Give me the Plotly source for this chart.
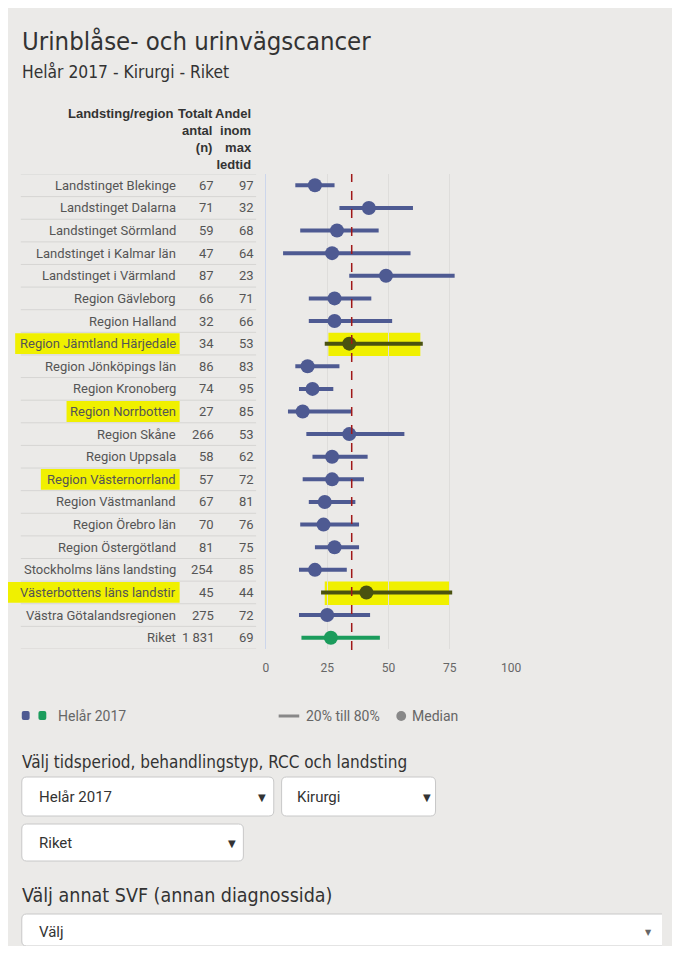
import plotly.graph_objects as go

OFF = 8  # default page body margin
W, H = 680 - 2 * OFF, 954 - 2 * OFF

regions = [
    "Landstinget Blekinge", "Landstinget Dalarna", "Landstinget Sörmland",
    "Landstinget i Kalmar län", "Landstinget i Värmland", "Region Gävleborg",
    "Region Halland", "Region Jämtland Härjedale", "Region Jönköpings län",
    "Region Kronoberg", "Region Norrbotten", "Region Skåne", "Region Uppsala",
    "Region Västernorrland", "Region Västmanland", "Region Örebro län",
    "Region Östergötland", "Stockholms läns landsting", "Västerbottens läns landstir",
    "Västra Götalandsregionen", "Riket",
]
totalt_n = ["67", "71", "59", "47", "87", "66", "32", "34", "86", "74", "27",
            "266", "58", "57", "67", "70", "81", "254", "45", "275", "1 831"]
andel = ["97", "32", "68", "64", "23", "71", "66", "53", "83", "95", "85",
         "53", "62", "72", "81", "76", "75", "85", "44", "72", "69"]
p20 = [12, 30, 14, 7, 34, 17.5, 17.5, 24, 12, 13.5, 9, 16.5, 19, 15, 17.5, 14, 20, 13.5, 22.5, 13.5, 14.5]
median = [20, 42, 29, 27, 49, 28, 28, 34, 17, 19, 15, 34, 27, 27, 24, 23.5, 28, 20, 41, 25, 26.5]
p80 = [28, 60, 46, 59, 77, 43, 51.5, 64, 30, 27.5, 35, 56.5, 41.5, 40, 36.5, 38, 38, 33, 76, 42.5, 46.5]
max_ledtid = 35
highlight_labels = ["Region Jämtland Härjedale", "Region Norrbotten",
                    "Region Västernorrland", "Västerbottens läns landstir"]
highlight_lines = ["Region Jämtland Härjedale", "Västerbottens läns landstir"]
x_ticks = [0, 25, 50, 75, 100]

BLUE = "#4e5a92"
GREEN = "#1b9c5c"
OLIVE = "#4a5210"
YELLOW = "#f0f000"
BG = "#ebeae8"


def X(px):
    return (px - OFF) / W


def Y(py):
    return 1 - (py - OFF) / H


def P(x, y):
    return f"{X(x)},{Y(y)}"


def rrect(x0, y0, x1, y1, r=4):
    return (f"M {P(x0 + r, y0)} L {P(x1 - r, y0)} Q {P(x1, y0)} {P(x1, y0 + r)} "
            f"L {P(x1, y1 - r)} Q {P(x1, y1)} {P(x1 - r, y1)} L {P(x0 + r, y1)} "
            f"Q {P(x0, y1)} {P(x0, y1 - r)} L {P(x0, y0 + r)} Q {P(x0, y0)} {P(x0 + r, y0)} Z")


def rrect_open_right(x0, y0, x1, y1, r=4):
    return (f"M {P(x1, y0)} L {P(x0 + r, y0)} Q {P(x0, y0)} {P(x0, y0 + r)} "
            f"L {P(x0, y1 - r)} Q {P(x0, y1)} {P(x0 + r, y1)} L {P(x1, y1)}")


fig = go.Figure()


def group(idx, color):
    lx, ly = [], []
    for i in idx:
        lx += [p20[i], p80[i], None]
        ly += [regions[i], regions[i], None]
    fig.add_trace(go.Scatter(x=lx, y=ly, mode="lines", line=dict(color=color, width=4),
                             hoverinfo="skip", showlegend=False))
    fig.add_trace(go.Scatter(x=[median[i] for i in idx], y=[regions[i] for i in idx],
                             mode="markers", marker=dict(color=color, size=14),
                             showlegend=False))


blue_idx = [i for i, r in enumerate(regions) if r != "Riket" and r not in highlight_lines]
olive_idx = [i for i, r in enumerate(regions) if r in highlight_lines]
green_idx = [i for i, r in enumerate(regions) if r == "Riket"]
group(blue_idx, BLUE)
group(olive_idx, OLIVE)
group(green_idx, GREEN)

shapes = []
for i in range(len(regions) + 1):
    shapes.append(dict(type="line", xref="paper", yref="y", x0=X(18), x1=X(258),
                       y0=i - 0.5, y1=i - 0.5, line=dict(color="#d6d5d3", width=1), layer="below"))
for r in highlight_labels:
    i = regions.index(r)
    txt_w = len(r) * 6.55
    shapes.append(dict(type="rect", xref="paper", yref="y", x0=X(178 - txt_w - 2), x1=X(180),
                       y0=i - 0.46, y1=i + 0.46, fillcolor=YELLOW, line_width=0, layer="below"))
for r in highlight_lines:
    i = regions.index(r)
    shapes.append(dict(type="rect", xref="x", yref="y", x0=p20[i] + 1.5, x1=p80[i] - 1,
                       y0=i - 0.48, y1=i + 0.55, fillcolor=YELLOW, line_width=0, layer="below"))
shapes.append(dict(type="line", xref="x", yref="paper", x0=max_ledtid, x1=max_ledtid,
                   y0=Y(650), y1=Y(174), line=dict(color="#a01818", width=1.5, dash="dash"),
                   layer="above"))
shapes.append(dict(type="path", xref="paper", yref="paper", path=rrect(19, 711, 27, 720, 2),
                   fillcolor=BLUE, line_width=0))
shapes.append(dict(type="path", xref="paper", yref="paper", path=rrect(36, 711, 44, 720, 2),
                   fillcolor=GREEN, line_width=0))
shapes.append(dict(type="line", xref="paper", yref="paper", x0=X(281), x1=X(302), y0=Y(716),
                   y1=Y(716), line=dict(color="#888888", width=3)))
shapes.append(dict(type="circle", xref="paper", yref="paper", x0=X(401), x1=X(411), y0=Y(721),
                   y1=Y(711), fillcolor="#888888", line_width=0))
for (x0, y0, x1, y1) in [(19, 777, 276, 816), (284, 777, 441, 816), (19, 824, 245, 861)]:
    shapes.append(dict(type="path", xref="paper", yref="paper", path=rrect(x0, y0, x1, y1, 5),
                       fillcolor="white", line=dict(color="#c8c8c8", width=1)))
shapes.append(dict(type="path", xref="paper", yref="paper",
                   path=rrect_open_right(19, 914, 680 - OFF, 946, 5),
                   fillcolor="white", line=dict(color="#c8c8c8", width=1)))

ann = []
HF = "Liberation Sans Narrow, DejaVu Sans Condensed, Arial"
BF = "Roboto, Arial"
ann.append(dict(text="Urinblåse- och urinvägscancer", x=X(17), y=Y(41), xref="paper", yref="paper",
                xanchor="left", yanchor="middle", showarrow=False,
                font=dict(family=HF, size=25.5, color="#333333")))
ann.append(dict(text="Helår 2017 - Kirurgi - Riket", x=X(17), y=Y(72), xref="paper", yref="paper",
                xanchor="left", yanchor="middle", showarrow=False,
                font=dict(family=HF, size=17.3, color="#333333")))
hdr = dict(xref="paper", yref="paper", xanchor="right", yanchor="top", align="right",
           showarrow=False, font=dict(family="Liberation Sans Narrow, Arial", size=13, color="#333333"))
ann.append(dict(text="<b>Landsting/region</b>", x=X(176), y=Y(104), **hdr))
ann.append(dict(text="<b>Totalt<br>antal<br>(n)</b>", x=X(216), y=Y(104), **hdr))
ann.append(dict(text="<b>Andel<br>inom<br>max<br>ledtid</b>", x=X(256), y=Y(104), **hdr))
rowfont = dict(family=BF, size=13, color="#555555")
for i, r in enumerate(regions):
    for txt, xp in [(r, 178), (totalt_n[i], 217), (andel[i], 258)]:
        ann.append(dict(text=txt, x=X(xp), y=r, xref="paper", yref="y", xanchor="right",
                        yanchor="middle", showarrow=False, font=rowfont))
lf = dict(family=BF, size=14, color="#666666")
ann.append(dict(text="Helår 2017", x=X(54), y=Y(716), xref="paper", yref="paper", xanchor="left",
                yanchor="middle", showarrow=False, font=lf))
ann.append(dict(text="20% till 80%", x=X(307), y=Y(716), xref="paper", yref="paper", xanchor="left",
                yanchor="middle", showarrow=False, font=lf))
ann.append(dict(text="Median", x=X(415), y=Y(716), xref="paper", yref="paper", xanchor="left",
                yanchor="middle", showarrow=False, font=lf))
ann.append(dict(text="Välj tidsperiod, behandlingstyp, RCC och landsting", x=X(17), y=Y(762),
                xref="paper", yref="paper", xanchor="left", yanchor="middle", showarrow=False,
                font=dict(family=HF, size=17, color="#333333")))
ann.append(dict(text="Välj annat SVF (annan diagnossida)", x=X(17), y=Y(895),
                xref="paper", yref="paper", xanchor="left", yanchor="middle", showarrow=False,
                font=dict(family=HF, size=19.5, color="#333333")))
df = dict(family="Roboto, Arial", size=15, color="#333333")
for txt, xp, yp in [("Helår 2017", 35, 797), ("Kirurgi", 298, 797), ("Riket", 35, 843),
                    ("Välj", 35, 932)]:
    ann.append(dict(text=txt, x=X(xp), y=Y(yp), xref="paper", yref="paper", xanchor="left",
                    yanchor="middle", showarrow=False, font=df))
for xp, yp, c, s in [(264, 797, "#333333", 10), (432, 797, "#333333", 10), (233, 843, "#333333", 10),
                     (658, 932, "#666666", 8)]:
    ann.append(dict(text="▼", x=X(xp), y=Y(yp), xref="paper", yref="paper", xanchor="center",
                    yanchor="middle", showarrow=False, font=dict(family="DejaVu Sans", size=s, color=c)))

fig.update_layout(
    width=W, height=H, margin=dict(l=0, r=0, t=0, b=0),
    paper_bgcolor=BG, plot_bgcolor="rgba(0,0,0,0)",
    shapes=shapes, annotations=ann, showlegend=False,
    xaxis=dict(domain=[X(268), X(518)], range=[0, 100], tickvals=x_ticks,
               ticktext=[str(t) for t in x_ticks], showgrid=True, gridcolor="#dedddb",
               gridwidth=1, zeroline=False, ticks="", ticklabelstandoff=10,
               tickfont=dict(family=BF, size=12, color="#666666"), fixedrange=True),
    yaxis=dict(domain=[Y(649), Y(174)], type="category", categoryarray=regions,
               categoryorder="array", range=[len(regions) - 0.5, -0.5], showticklabels=False,
               showgrid=False, zeroline=False, showline=True, linecolor="#ccd6eb", linewidth=1,
               fixedrange=True),
)

fig.write_html("out.html", config={"displayModeBar": False})
